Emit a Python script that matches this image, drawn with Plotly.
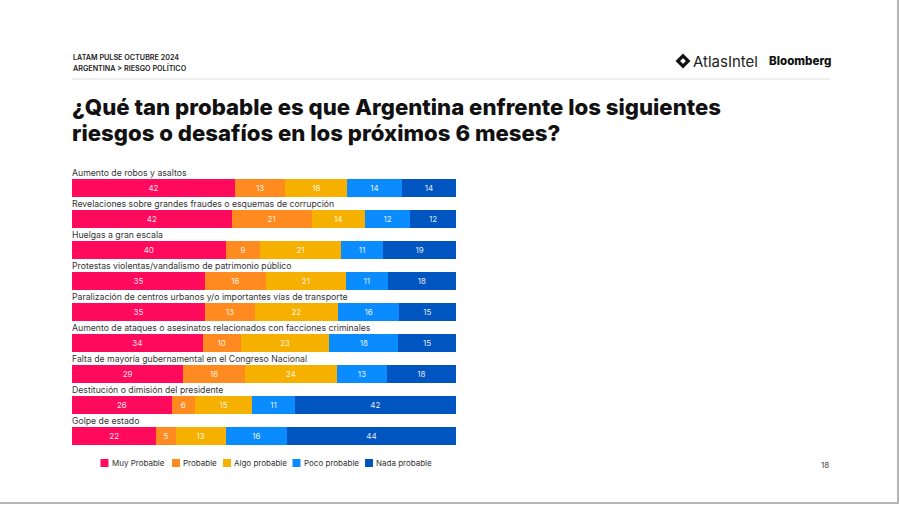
import plotly.graph_objects as go

categories = [
    "Aumento de robos y asaltos",
    "Revelaciones sobre grandes fraudes o esquemas de corrupción",
    "Huelgas a gran escala",
    "Protestas violentas/vandalismo de patrimonio público",
    "Paralización de centros urbanos y/o importantes vías de transporte",
    "Aumento de ataques o asesinatos relacionados con facciones criminales",
    "Falta de mayoría gubernamental en el Congreso Nacional",
    "Destitución o dimisión del presidente",
    "Golpe de estado",
]
series_names = ["Muy Probable", "Probable", "Algo probable", "Poco probable", "Nada probable"]
muy_probable = [42, 42, 40, 35, 35, 34, 29, 26, 22]
probable = [13, 21, 9, 16, 13, 10, 16, 6, 5]
algo_probable = [16, 14, 21, 21, 22, 23, 24, 15, 13]
poco_probable = [14, 12, 11, 11, 16, 18, 13, 11, 16]
nada_probable = [14, 12, 19, 18, 15, 15, 18, 42, 44]
colors = ["#FF0A5C", "#FF8A1F", "#F6B000", "#0A8CFF", "#0055C0"]

W, H = 900, 505
L, R, T, B = 72, 456, 160, 450


def px(x):
    return (x - L) / (R - L)


def py(y):
    return (B - y) / (B - T)


fig = go.Figure()
all_series = [muy_probable, probable, algo_probable, poco_probable, nada_probable]
ypos = list(range(len(categories)))
for name, vals, col in zip(series_names, all_series, colors):
    fig.add_trace(go.Bar(
        y=ypos, x=vals, name=name, orientation="h",
        marker=dict(color=col, line=dict(width=0)),
        text=[str(v) for v in vals], textposition="inside",
        insidetextanchor="middle",
        textfont=dict(color="rgba(255,255,255,0.9)", size=8, family="Inter"),
        width=0.61, hoverinfo="skip", showlegend=False,
    ))

annotations = []
for i, c in enumerate(categories):
    annotations.append(dict(
        x=0, xref="paper", y=i, yref="y", yshift=15, xshift=-2, text=c,
        showarrow=False, xanchor="left", yanchor="middle",
        font=dict(size=8.7, color="#333333", family="Inter"),
    ))

# legend (compact, as in the original slide)
legend_x = [100.5, 172, 223, 292.5, 365]
shapes = []
for name, col, lx in zip(series_names, colors, legend_x):
    shapes.append(dict(type="rect", xref="paper", yref="paper",
                       x0=px(lx), x1=px(lx + 8), y0=py(459), y1=py(467),
                       fillcolor=col, line=dict(width=0)))
    annotations.append(dict(x=px(lx + 9), y=py(463), xref="paper", yref="paper", text=name,
                            showarrow=False, xanchor="left", yanchor="middle",
                            font=dict(size=8, color="#333333", family="Inter")))

# header texts
annotations += [
    dict(x=px(71), y=py(57), xref="paper", yref="paper", text="LATAM PULSE OCTUBRE 2024",
         showarrow=False, xanchor="left", yanchor="middle",
         font=dict(size=7.2, color="#222222", family="Inter", weight=600)),
    dict(x=px(71), y=py(68), xref="paper", yref="paper", text="ARGENTINA > RIESGO POLÍTICO",
         showarrow=False, xanchor="left", yanchor="middle",
         font=dict(size=7.2, color="#222222", family="Inter", weight=600)),
    dict(x=px(70), y=py(106), xref="paper", yref="paper",
         text="¿Qué tan probable es que Argentina enfrente los siguientes",
         showarrow=False, xanchor="left", yanchor="middle",
         font=dict(size=22.2, color="#111111", family="Inter", weight=800)),
    dict(x=px(70), y=py(133), xref="paper", yref="paper",
         text="riesgos o desafíos en los próximos 6 meses?",
         showarrow=False, xanchor="left", yanchor="middle",
         font=dict(size=22.2, color="#111111", family="Inter", weight=800)),
    dict(x=px(691), y=py(61), xref="paper", yref="paper", text="AtlasIntel",
         showarrow=False, xanchor="left", yanchor="middle",
         font=dict(size=15, color="#222222", family="Inter")),
    dict(x=px(767), y=py(61), xref="paper", yref="paper", text="Bloomberg",
         showarrow=False, xanchor="left", yanchor="middle",
         font=dict(size=11.6, color="#111111", family="Inter", weight=800)),
    dict(x=px(831), y=py(465), xref="paper", yref="paper", text="18",
         showarrow=False, xanchor="right", yanchor="middle",
         font=dict(size=8, color="#444444", family="Inter")),
]

shapes += [
    dict(type="line", xref="paper", yref="paper", x0=px(72), x1=px(830), y0=py(79), y1=py(79),
         line=dict(color="#dddddd", width=1)),
    # AtlasIntel logo ring
    dict(type="path", xref="paper", yref="paper",
         path=(f"M {px(683)},{py(55.8)} L {px(688.2)},{py(61)} L {px(683)},{py(66.2)} "
               f"L {px(677.8)},{py(61)} Z"),
         line=dict(color="#111111", width=3.2), fillcolor="white"),
    # slide border
    dict(type="line", xref="paper", yref="paper", x0=px(898), x1=px(898), y0=py(0), y1=py(504),
         line=dict(color="#b5b5b5", width=2)),
    dict(type="line", xref="paper", yref="paper", x0=px(0), x1=px(899), y0=py(503), y1=py(503),
         line=dict(color="#b5b5b5", width=2)),
]

pitch = 31
top_units = (188 - T) / pitch
bottom_units = (B - T) / pitch - top_units

fig.update_layout(
    width=W, height=H,
    margin=dict(l=L, r=W - R, t=T, b=H - B, pad=0, autoexpand=False),
    barmode="stack", barnorm="percent",
    paper_bgcolor="white", plot_bgcolor="white",
    xaxis=dict(visible=False, range=[0, 100], fixedrange=True),
    yaxis=dict(visible=False, range=[bottom_units, -top_units], fixedrange=True),
    showlegend=False,
    annotations=annotations, shapes=shapes,
    uniformtext=dict(minsize=6, mode="show"),
    font=dict(family="Inter"),
)

fig.write_html("out.html", config={"displayModeBar": False},
               post_script="document.body.style.margin='0';")
